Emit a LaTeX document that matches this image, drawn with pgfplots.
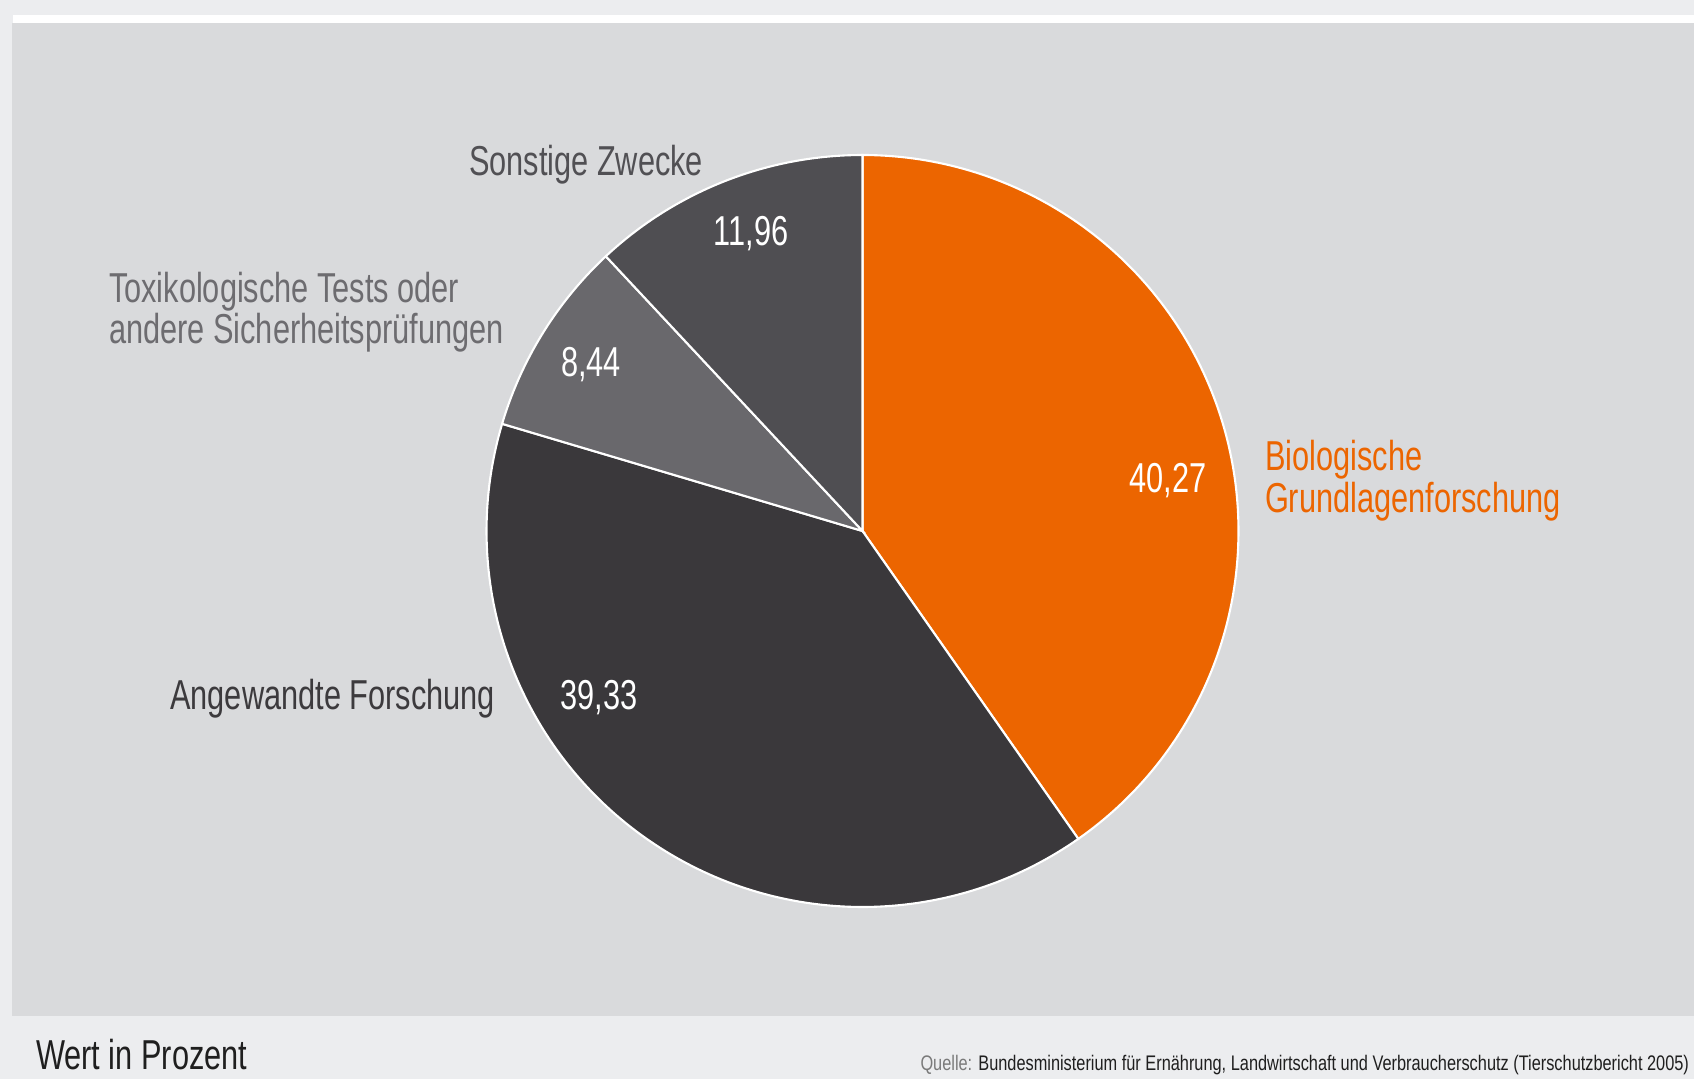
\documentclass[border=0pt]{standalone}
\usepackage{pgfplots}
\pgfplotsset{compat=1.18}
\usepackage{pgfplotstable}
\usepackage{fontspec}
\setmainfont{Liberation Sans}[FakeStretch=0.735]
\newfontfamily\srcfam{Liberation Sans}[FakeStretch=0.775]
\definecolor{outerbg}{HTML}{ECEDEF}
\definecolor{panelbg}{HTML}{D9DADC}
\definecolor{bio}{HTML}{EC6500}
\definecolor{ang}{HTML}{3A383B}
\definecolor{tox}{HTML}{69686C}
\definecolor{son}{HTML}{4F4E52}
\definecolor{sontxt}{HTML}{515054}
\definecolor{toxtxt}{HTML}{6D6C70}
\definecolor{angtxt}{HTML}{3C3A3D}
\definecolor{foot}{HTML}{1F1F1F}
\definecolor{quelle}{HTML}{7A7A7A}

\pgfplotstableread{
label value
Bio 40.27
Ang 39.33
Tox 8.44
Son 11.96
}\piedata

\pgfplotstablegetelem{0}{value}\of\piedata \let\vA\pgfplotsretval
\pgfplotstablegetelem{1}{value}\of\piedata \let\vB\pgfplotsretval
\pgfplotstablegetelem{2}{value}\of\piedata \let\vC\pgfplotsretval
\pgfplotstablegetelem{3}{value}\of\piedata \let\vD\pgfplotsretval
\pgfmathsetmacro\aZero{90}
\pgfmathsetmacro\aOne{\aZero-3.6*\vA}
\pgfmathsetmacro\aTwo{\aOne-3.6*\vB}
\pgfmathsetmacro\aThree{\aTwo-3.6*\vC}
\pgfmathsetmacro\aFour{\aThree-3.6*\vD}

\newcommand{\lbl}{\fontsize{11.9pt}{11.9pt}\selectfont}
\newcommand{\srcfont}{\srcfam\fontsize{6.0pt}{6.0pt}\selectfont}

\begin{document}
\begin{tikzpicture}
\useasboundingbox (0,0) rectangle (16.94,10.79);
\fill[outerbg] (0,0) rectangle (16.94,10.79);
\fill[white] (0.13,10.56) rectangle (16.94,10.64);
\fill[panelbg] (0.12,0.63) rectangle (16.94,10.56);

\begin{axis}[at={(8.625cm,5.48cm)}, anchor=origin,
  x=3.76cm, y=3.76cm, xmin=-1, xmax=1, ymin=-1, ymax=1,
  hide axis, clip=false]
\addplot[fill=bio, draw=white, line width=0.6pt, domain=\aOne:\aZero, samples=150, variable=\t] ({cos(\t)},{sin(\t)}) -- (0,0) -- cycle;
\addplot[fill=ang, draw=white, line width=0.6pt, domain=\aTwo:\aOne, samples=150, variable=\t] ({cos(\t)},{sin(\t)}) -- (0,0) -- cycle;
\addplot[fill=tox, draw=white, line width=0.6pt, domain=\aThree:\aTwo, samples=60, variable=\t] ({cos(\t)},{sin(\t)}) -- (0,0) -- cycle;
\addplot[fill=son, draw=white, line width=0.6pt, domain=\aFour:\aThree, samples=60, variable=\t] ({cos(\t)},{sin(\t)}) -- (0,0) -- cycle;
\end{axis}

\begin{scope}[every node/.style={inner sep=0pt, outer sep=0pt}]
\node[anchor=base west, text=sontxt, font=\lbl] at (4.69,9.03) {Sonstige Zwecke};
\node[anchor=base west, text=toxtxt, font=\lbl] at (1.09,7.76) {Toxikologische Tests oder};
\node[anchor=base west, text=toxtxt, font=\lbl] at (1.09,7.35) {andere Sicherheitsprüfungen};
\node[anchor=base west, text=bio, font=\lbl] at (12.65,6.08) {Biologische};
\node[anchor=base west, text=bio, font=\lbl] at (12.65,5.66) {Grundlagenforschung};
\node[anchor=base east, text=angtxt, font=\lbl] at (4.95,3.69) {Angewandte Forschung};
\node[anchor=base, text=white, font=\lbl] at (7.51,8.33) {11,96};
\node[anchor=base, text=white, font=\lbl] at (5.91,7.02) {8,44};
\node[anchor=base, text=white, font=\lbl] at (11.68,5.86) {40,27};
\node[anchor=base, text=white, font=\lbl] at (5.99,3.69) {39,33};
\node[anchor=base west, text=foot, font=\lbl] at (0.36,0.10) {Wert in Prozent};
\node[anchor=base east, text=foot, font=\srcfont] at (16.89,0.09) {\textcolor{quelle}{Quelle:} Bundesministerium für Ernährung, Landwirtschaft und Verbraucherschutz (Tierschutzbericht 2005)};
\end{scope}
\end{tikzpicture}
\end{document}
